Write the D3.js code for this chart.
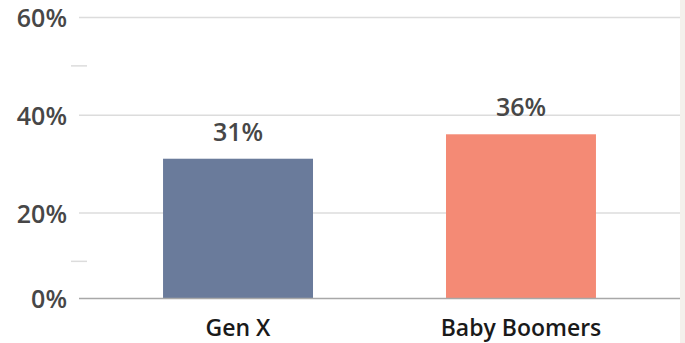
<!DOCTYPE html>
<html>
<head>
<meta charset="utf-8">
<script src="https://cdn.jsdelivr.net/npm/d3@7"></script>
<style>
  html, body { margin: 0; padding: 0; background: #ffffff; }
  svg { display: block; }
</style>
</head>
<body>
<svg id="chart" width="685" height="343"></svg>
<script>
// Share of each generation
const categories = ["Gen X", "Baby Boomers"];
const values = [31, 36];
const colors = ["#6a7b9b", "#f48a75"];
const majorTicks = [0, 20, 40, 60];
const minorTicks = [10, 50];

const chartWidth = 685, chartHeight = 343;
const plotLeft = 79, plotRight = 680, plotTop = 17, plotBottom = 298;

const svg = d3.select("#chart");

// light strip along the right edge
svg.append("rect")
  .attr("x", plotRight).attr("y", 0)
  .attr("width", chartWidth - plotRight).attr("height", chartHeight)
  .attr("fill", "#f4f0ec");

const x = d3.scaleBand()
  .domain(categories)
  .range([plotLeft, plotRight])
  .paddingInner(0.47)
  .paddingOuter(0.297);

// the value axis is cut slightly above zero at the baseline
const y = d3.scaleLinear()
  .domain([2.5, 60])
  .range([plotBottom, plotTop]);

const numberFont = "'Open Sans', Lato, sans-serif";
const labelFont = "'Open Sans', Lato, sans-serif";

// gridlines
svg.append("g")
  .selectAll("line")
  .data(majorTicks.filter(d => d > 0))
  .join("line")
  .attr("x1", plotLeft).attr("x2", plotRight)
  .attr("y1", d => y(d) + 0.5).attr("y2", d => y(d) + 0.5)
  .attr("stroke", "#dcdcdc")
  .attr("stroke-width", 1.5);

// minor ticks
svg.append("g")
  .selectAll("line")
  .data(minorTicks)
  .join("line")
  .attr("x1", 71).attr("x2", 87)
  .attr("y1", d => y(d)).attr("y2", d => y(d))
  .attr("stroke", "#dcdcdc")
  .attr("stroke-width", 1.5);

// tick labels
svg.append("g")
  .selectAll("text")
  .data(majorTicks)
  .join("text")
  .attr("x", 67)
  .attr("y", d => (d === 0 ? plotBottom : y(d)) + 1.5)
  .attr("dy", "0.35em")
  .attr("text-anchor", "end")
  .attr("font-family", numberFont)
  .attr("font-weight", 600)
  .attr("font-size", 25)
  .attr("fill", "#474747")
  .text(d => d + "%");

// bars
svg.append("g")
  .selectAll("rect")
  .data(values)
  .join("rect")
  .attr("x", (d, i) => x(categories[i]))
  .attr("width", x.bandwidth())
  .attr("y", d => y(d))
  .attr("height", d => plotBottom - y(d))
  .attr("fill", (d, i) => colors[i]);

// baseline
svg.append("line")
  .attr("x1", plotLeft).attr("x2", plotRight)
  .attr("y1", plotBottom + 0.5).attr("y2", plotBottom + 0.5)
  .attr("stroke", "#a8a8a8")
  .attr("stroke-width", 1.5);

// value labels
svg.append("g")
  .selectAll("text")
  .data(values)
  .join("text")
  .attr("x", (d, i) => x(categories[i]) + x.bandwidth() / 2)
  .attr("y", d => y(d) - 18)
  .attr("text-anchor", "middle")
  .attr("font-family", numberFont)
  .attr("font-weight", 600)
  .attr("font-size", 25)
  .attr("fill", "#474747")
  .text(d => d + "%");

// category labels
svg.append("g")
  .selectAll("text")
  .data(categories)
  .join("text")
  .attr("x", d => x(d) + x.bandwidth() / 2)
  .attr("y", 336)
  .attr("text-anchor", "middle")
  .attr("font-family", labelFont)
  .attr("font-weight", 600)
  .attr("font-size", 23)
  .attr("fill", "#1a1a1a")
  .text(d => d);
</script>
</body>
</html>
